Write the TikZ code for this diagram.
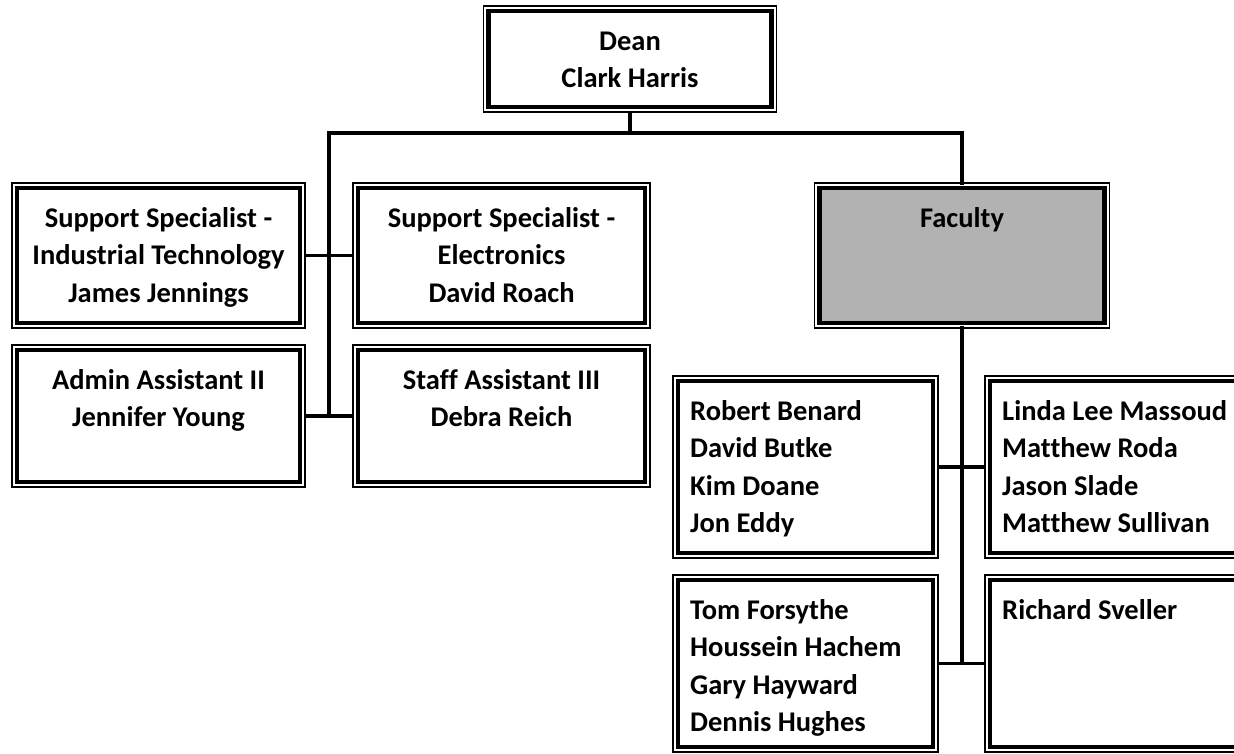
\documentclass[tikz,border=0pt]{standalone}
\usepackage{fontspec}
\setmainfont[Ligatures=NoCommon]{Carlito}
\usetikzlibrary{positioning}
\definecolor{facgray}{RGB}{178,178,178}

\begin{document}
\begin{tikzpicture}[
  x=1pt, y=-1pt,
  box/.style={draw, line width=4.2pt, inner sep=0pt, outer sep=5pt, fill=white},
  frame/.style={draw, line width=1.3pt},
  txt/.style={inner sep=0pt, font=\fontsize{28.5}{37.5}\selectfont\bfseries},
  link/.style={line width=3.8pt},
  trunk/.style={link, line cap=rect}
]
\useasboundingbox (0,0) rectangle (1234,753);

% boxes
\node[box, minimum width=283pt, minimum height=96pt] (dean) at (630,59) {};
\node[box, minimum width=283pt, minimum height=135pt] (itspec) at (158.5,255.5) {};
\node[box, minimum width=287pt, minimum height=135pt] (elecspec) at (501.5,255.5) {};
\node[box, minimum width=283pt, minimum height=132pt] (admin) at (158.5,416) {};
\node[box, minimum width=287pt, minimum height=132pt] (staff) at (501.5,416) {};
\node[box, fill=facgray, minimum width=285pt, minimum height=135pt] (faculty) at (962,255.5) {};
\node[box, minimum width=255pt, minimum height=172pt] (facA) at (805.5,467) {};
\node[box, minimum width=255pt, minimum height=172pt] (facB) at (1117.5,467) {};
\node[box, minimum width=255pt, minimum height=167pt] (facC) at (805.5,663.5) {};
\node[box, minimum width=255pt, minimum height=167pt] (facD) at (1117.5,663.5) {};

\foreach \b in {dean,itspec,elecspec,admin,staff,faculty,facA,facB,facC,facD}
  \draw[frame] (\b.north west) rectangle (\b.south east);

% texts
\node[txt, align=center, below=17.75pt of dean.north] (dean-t) {\strut Dean\\Clark Harris};
\node[txt, align=center, below=17.75pt of itspec.north] (itspec-t) {\strut Support Specialist -\\Industrial Technology\\James Jennings};
\node[txt, align=center, below=17.75pt of elecspec.north] (elecspec-t) {\strut Support Specialist -\\Electronics\\David Roach};
\node[txt, align=center, below=17.75pt of admin.north] (admin-t) {\strut Admin Assistant II\\Jennifer Young};
\node[txt, align=center, below=17.75pt of staff.north] (staff-t) {\strut Staff Assistant III\\Debra Reich};
\node[txt, align=center, below=17.75pt of faculty.north] (faculty-t) {\strut Faculty};
\node[txt, align=left, below right=17.75pt and 17pt of facA.north west] (facA-t) {\strut Robert Benard\\David Butke\\Kim Doane\\Jon Eddy};
\node[txt, align=left, below right=17.75pt and 17pt of facB.north west] (facB-t) {\strut Linda Lee Massoud\\Matthew Roda\\Jason Slade\\Matthew Sullivan};
\node[txt, align=left, below right=17.75pt and 17pt of facC.north west] (facC-t) {\strut Tom Forsythe\\Houssein Hachem\\Gary Hayward\\Dennis Hughes};
\node[txt, align=left, below right=17.75pt and 17pt of facD.north west] (facD-t) {\strut Richard Sveller};

% connectors
\coordinate (busL) at (329,133);
\coordinate (busR) at (962,133);
\draw[link] (dean.south) -- (dean.south |- busL);
\draw[trunk] (busL |- admin.east) -- (busL) -- (busR) -- (faculty.north);
\draw[link] (itspec.east) -- (elecspec.west);
\draw[link] (admin.east) -- (staff.west);
\draw[trunk] (faculty.south) -- (faculty.south |- facC.east);
\draw[link] (facA.east) -- (facB.west);
\draw[link] (facC.east) -- (facD.west);
\end{tikzpicture}
\end{document}
